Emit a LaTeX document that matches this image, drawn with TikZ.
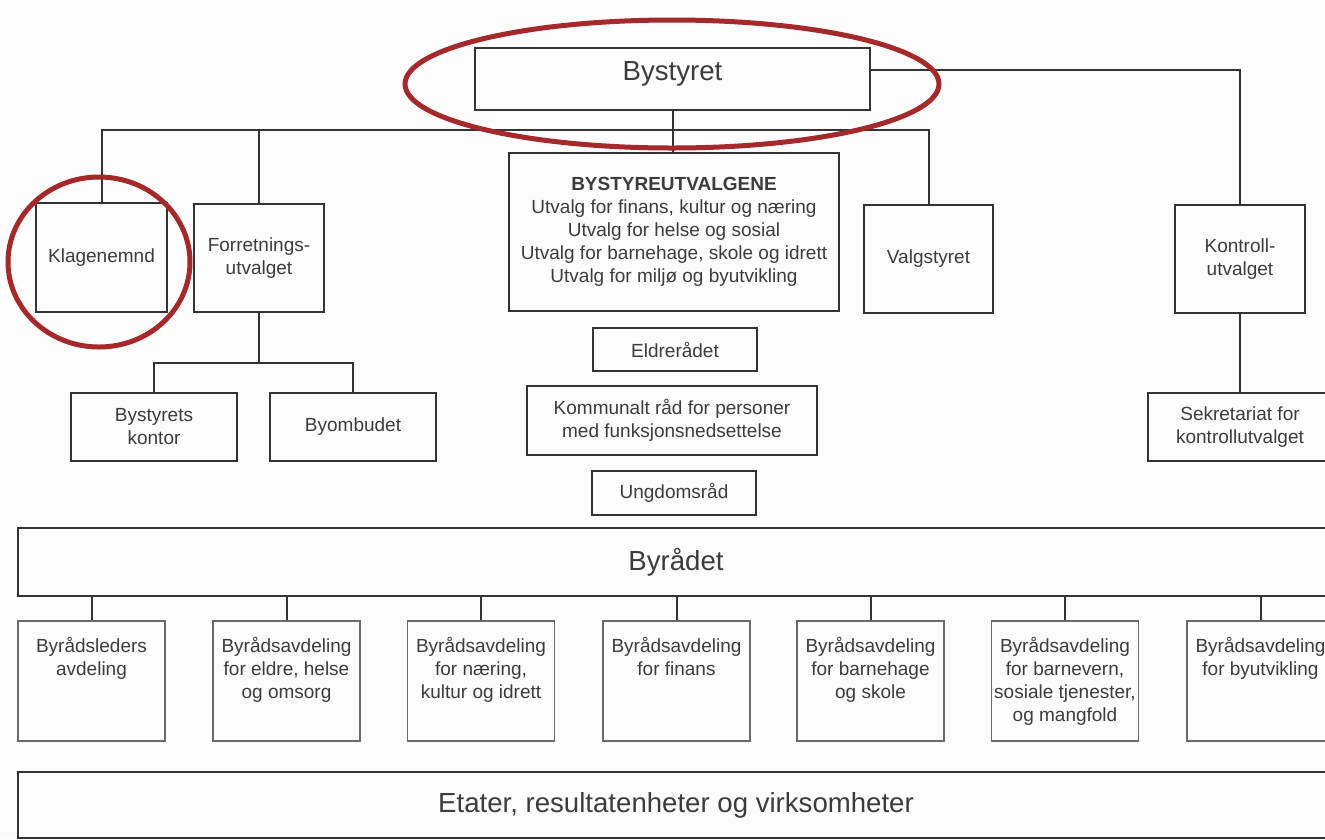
\documentclass[tikz,border=0pt]{standalone}
\usepackage{fontspec}
\setmainfont{Liberation Sans}
\definecolor{ln}{HTML}{333333}
\definecolor{lnlight}{HTML}{6A6A6A}
\definecolor{txt}{HTML}{3C3C3C}
\definecolor{mark}{RGB}{165,40,42}
\definecolor{bg}{HTML}{FCFCFC}
\newcommand{\dtext}[1]{\parbox[c][120pt][t]{147pt}{\centering\rule{0pt}{31pt}#1}}
\newcommand{\bigf}{\fontsize{27.6}{32}\selectfont}
\begin{document}
\begin{tikzpicture}[x=1pt,y=-1pt,
  every node/.style={font=\fontsize{19}{23}\selectfont, text=txt},
  box/.style={draw=ln, line width=2pt, inner sep=0pt, align=center, fill=bg},
  dept/.style={draw=lnlight, line width=1.4pt, inner sep=0pt, fill=bg},
  conn/.style={draw=ln, line width=2pt},
  connlight/.style={draw=ln, line width=2pt},
  redmark/.style={draw=mark, line width=5pt}]
\useasboundingbox (0,0) rectangle (1325,839);
\clip (0,0) rectangle (1325,839);
\fill[bg] (0,0) rectangle (1325,839);

% top level
\node[box, minimum width=395pt, minimum height=62pt] (bystyret) at (672.5,79) {};
\node[anchor=base, font=\bigf] (bystyretlbl) at (672.5,80) {Bystyret};

\node[box, minimum width=131pt, minimum height=109pt] (klag) at (101.5,257.5) {Klagenemnd};
\node[box, minimum width=130pt, minimum height=108pt] (forr) at (259,258) {Forretnings-\\utvalget};
\node[box, minimum width=330pt, minimum height=158pt] (butv) at (674,232)
  {\textbf{BYSTYREUTVALGENE}\\Utvalg for finans, kultur og næring\\Utvalg for helse og sosial\\Utvalg for barnehage, skole og idrett\\Utvalg for miljø og byutvikling};
\node[box, minimum width=129pt, minimum height=108pt] (valg) at (928.5,259) {Valgstyret};
\node[box, minimum width=130pt, minimum height=108pt] (kontr) at (1240,259) {Kontroll-\\utvalget};
\node[box, minimum width=184pt, minimum height=68pt] (sekr) at (1240,427) {Sekretariat for\\kontrollutvalget};

\node[box, minimum width=166pt, minimum height=68pt] (bk) at (154,427) {Bystyrets\\kontor};
\node[box, minimum width=166pt, minimum height=68pt] (bo) at (353,427) {Byombudet};

\node[box, minimum width=164pt, minimum height=43pt] (eldre) at (675,349.5) {Eldrerådet};
\node[box, minimum width=290pt, minimum height=69pt] (kraad) at (672,420.5) {Kommunalt råd for personer\\med funksjonsnedsettelse};
\node[box, minimum width=164pt, minimum height=44pt] (ungd) at (674,493) {Ungdomsråd};

\node[box, minimum width=1316pt, minimum height=68pt, font=\bigf] (byr) at (676,562) {Byrådet};

\node[dept] (d1) at (91.5,681) {\dtext{Byrådsleders\\avdeling}};
\node[dept] (d2) at (286.5,681) {\dtext{Byrådsavdeling\\for eldre, helse\\og omsorg}};
\node[dept] (d3) at (481,681) {\dtext{Byrådsavdeling\\for næring,\\kultur og idrett}};
\node[dept] (d4) at (676.5,681) {\dtext{Byrådsavdeling\\for finans}};
\node[dept] (d5) at (870.5,681) {\dtext{Byrådsavdeling\\for barnehage\\og skole}};
\node[dept] (d6) at (1065,681) {\dtext{Byrådsavdeling\\for barnevern,\\sosiale tjenester,\\og mangfold}};
\node[dept] (d7) at (1260.5,681) {\dtext{Byrådsavdeling\\for byutvikling}};

\node[box, minimum width=1316pt, minimum height=66pt, font=\bigf] (etat) at (676,805) {Etater, resultatenheter og virksomheter};

% connectors
\coordinate (bus) at (672.5,130);
\coordinate (fbus) at (259,363);
\draw[conn] (bystyret.south) -- (bystyret.south |- butv.north);
\draw[conn] (klag.north) |- (bus) -| (valg.north);
\draw[conn] (forr.north) -- (forr.north |- bus);
\draw[conn] ([yshift=9pt]bystyret.east) -| (kontr.north);
\draw[conn] (kontr.south) -- (sekr.north);
\draw[conn] (forr.south) -- (forr.south |- fbus);
\draw[conn] (bk.north) |- (fbus) -| (bo.north);
\foreach \d in {d1,d2,d3,d4,d5,d6,d7}
  \draw[connlight] (\d.north) -- (\d.north |- byr.south);

% red highlight marks
\draw[redmark] (672,84) ellipse [x radius=267pt, y radius=64pt];
\draw[redmark] (99,262) ellipse [x radius=91pt, y radius=85pt];
\end{tikzpicture}
\end{document}
